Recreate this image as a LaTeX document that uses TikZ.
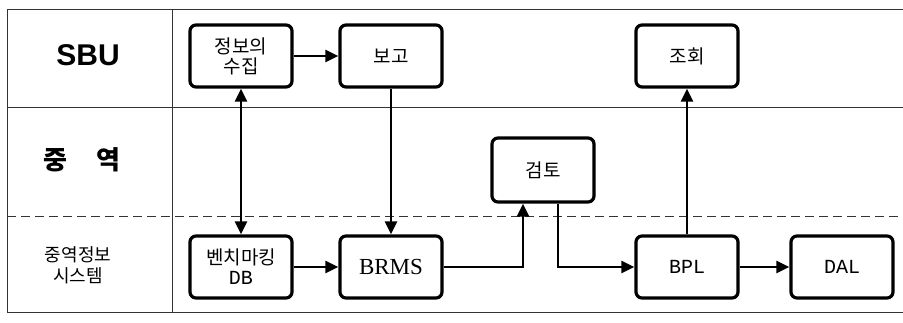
\documentclass[tikz,border=0pt]{standalone}
\usepackage{fontspec}
\usepackage{xcolor}
\usepackage{tikz}
\usetikzlibrary{arrows.meta, positioning}
\setmainfont{Noto Sans CJK KR}
\newfontfamily\arialfont{Liberation Sans}
\newfontfamily\timesfont{Liberation Serif}
\newfontfamily\monofont{Liberation Mono}

\begin{document}
\begin{tikzpicture}[x=1pt, y=1pt, node distance=107pt and 150pt, on grid,
    box/.style={draw, line width=3.2pt, rounded corners=6pt, minimum width=102pt,
        minimum height=62pt, align=center, font=\fontsize{19}{20}\selectfont},
    arr/.style={line width=2.6pt, -{Triangle[length=13pt, width=12pt]}},
    lane/.style={line width=1pt, black!80}]
        \useasboundingbox (0,0) rectangle (903,-323);

        % lanes
        \draw[lane] (903,-10) -- (7,-10) -- (7,-313) -- (903,-313);
        \draw[lane] (172,-10) -- (172,-313);
        \draw[lane] (7,-108) -- (903,-108);
        \draw[lane, dash pattern=on 9pt off 5pt] (7,-217) -- (903,-217);

        \node (sbu) at (88,-55) {\arialfont\bfseries\fontsize{30}{32}\selectfont SBU};
        \node (exec) at (82,-160) {\bfseries\fontsize{26}{28}\selectfont 중\hspace{1.1em}역};
        \node[align=center, font=\fontsize{18}{21}\selectfont] (eis) at (78,-265) {중역정보\\시스템};

        % boxes
        \node[box] (collect) at (241,-56) {정보의\\수집};
        \node[box] (report) [right=of collect] {보고};
        \node[box] (bench) [below=211pt of collect] {벤치마킹\\{\monofont\fontsize{20}{21}\selectfont DB}};
        \node[box] (brms) [right=of bench] {\timesfont\fontsize{23}{24}\selectfont BRMS};
        \node[box, minimum height=64pt] (review) [above right=97pt and 152pt of brms] {검토};
        \node[box] (bpl) [right=296pt of brms] {\monofont\fontsize{20}{21}\selectfont BPL};
        \node[box] (lookup) [above=211pt of bpl] {조회};
        \node[box] (dal) [right=155pt of bpl] {\monofont\fontsize{20}{21}\selectfont DAL};

        \path[arr]
        (collect) edge (report)
        (report) edge (brms)
        (bench) edge (brms)
        (bpl) edge (lookup)
        (bpl) edge (dal);
        \draw[arr, {Triangle[length=13pt, width=12pt]}-{Triangle[length=13pt, width=12pt]}] (collect) -- (bench);
        \draw[arr] (brms.east) -| ([xshift=-20pt]review.south);
        \draw[arr] ([xshift=15pt]review.south) |- (bpl.west);

    \end{tikzpicture}
\end{document}
